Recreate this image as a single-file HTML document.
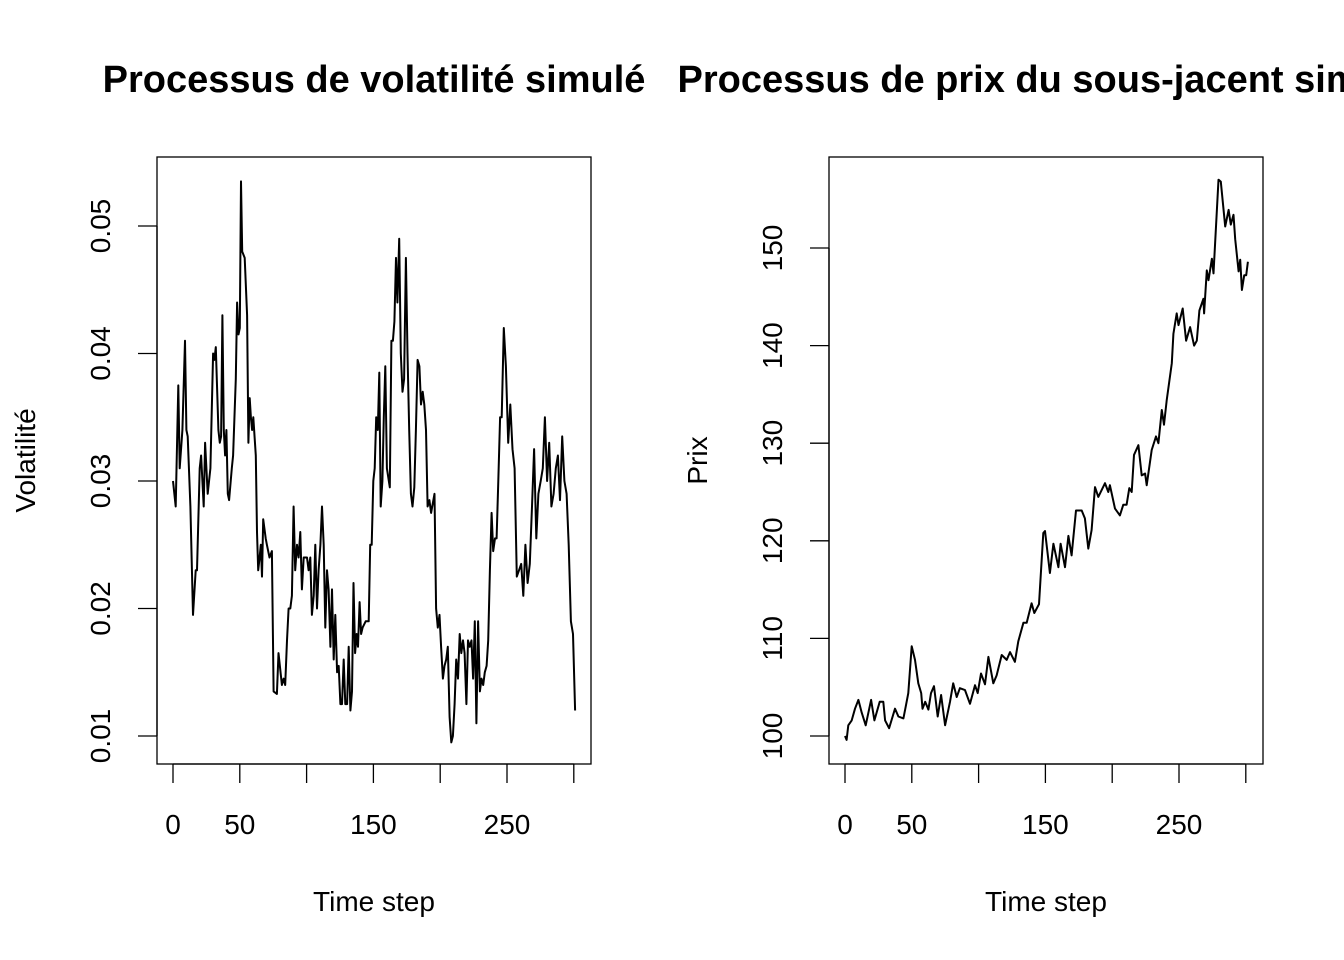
<!DOCTYPE html>
<html><head><meta charset="utf-8"><style>
html,body{margin:0;padding:0;background:#fff;}
svg{display:block;font-family:"Liberation Sans",Arial,sans-serif;}
</style></head><body>
<svg id="chart" width="1344" height="960" viewBox="0 0 1344 960"></svg>
<script>
// Volatility panel data
const volTime = [0,2,4,5,7,9,10,11,13,15,17,18,20,21,23,24,26,28,30,31,32,34,35,36,37,38,39,40,41,42,44,45,47,48,49,50,
50.9,51.8,53.7,55.5,56.4,57.4,58.3,59.2,60.1,62,62.9,63.8,64.8,65.7,66.6,67.5,69.4,70.3,72.2,74,
75.3,77.8,79,81.5,82.8,84,85.3,86.5,87.8,89,90.3,91.5,92.8,94,95.3,96.5,97.8,100.3,101.5,102.8,104,105.3,106.5,107.8,109,110.3,111.5,112.8,114,115.3,116.5,117.8,119,120.3,121.5,122.8,124,125.3,126.5,127.8,129,130.3,131.5,132.8,134,
135.1,136.3,137.4,138.5,139.7,140.8,141.9,144.2,146.5,147.6,148.7,149.9,151,152.1,153.3,154.4,155.5,156.7,157.8,158.9,160.1,162.3,163.5,164.6,165.7,166.9,168,
169.3,170.5,171.8,173,174.3,175.5,176.8,178.1,179.3,180.6,181.8,183.1,184.4,185.6,186.9,188.1,189.4,190.6,191.9,193.2,195.7,196.9,198.2,199.5,200.7,202,203.2,204.5,205.7,207,208.3,209.5,210.8,212,213.3,214.6,215.8,217.1,218.3,219.6,220.8,222.1,223.4,224.6,225.9,227.1,228.4,229.7,230.9,232.2,233.4,234.7,235.9,237.2,238.5,239.7,241,242.2,243.5,244.8,246,
247.6,249.2,250.9,252.5,254.1,255.7,257.3,259,260.6,262.2,263.8,265.4,267.1,268.7,270.3,271.9,273.5,275.2,276.8,278.4,280,281.6,283.2,284.9,286.5,288.1,289.7,291.3,293,294.6,296.2,297.8,299.4,301];
const volValue = [0.030,0.028,0.0375,0.031,0.034,0.041,0.034,0.0335,0.028,0.0195,0.023,0.023,0.031,0.032,0.028,0.033,0.029,0.031,0.040,0.0395,0.0405,0.034,0.033,0.0335,0.043,0.034,0.032,0.034,0.029,0.0285,0.031,0.032,0.038,0.044,0.0415,0.042,
0.0535,0.048,0.0475,0.043,0.033,0.0365,0.035,0.034,0.035,0.032,0.026,0.023,0.024,0.025,0.0225,0.027,0.0255,0.025,0.024,0.0245,
0.0135,0.0133,0.0165,0.014,0.0145,0.014,0.0175,0.020,0.020,0.021,0.028,0.023,0.025,0.024,0.026,0.0215,0.024,0.024,0.023,0.024,0.0195,0.021,0.025,0.020,0.023,0.025,0.028,0.025,0.0185,0.023,0.0215,0.017,0.0215,0.016,0.0195,0.015,0.0155,0.0125,0.0125,0.016,0.0125,0.0125,0.017,0.012,0.0135,0.022,
0.0165,0.018,0.017,0.0205,0.018,0.0185,0.019,0.019,0.025,0.025,0.030,0.031,0.035,0.034,0.0385,0.028,0.030,0.035,0.039,0.031,0.0295,0.041,0.041,0.0425,0.0475,0.044,0.049,
0.040,0.037,0.038,0.0475,0.040,0.034,0.029,0.028,0.0295,0.034,0.0395,0.039,0.036,0.037,0.036,0.034,0.028,0.0285,0.0275,0.029,0.020,0.0185,0.0195,0.017,0.0145,0.0155,0.016,0.017,0.0115,0.0095,0.010,0.0125,0.016,0.0145,0.018,0.0165,0.0175,0.0165,0.0125,0.0175,0.017,0.0175,0.0145,0.019,0.011,0.019,0.0135,0.0145,0.014,0.015,0.0155,0.0175,0.023,0.0275,0.0245,0.0255,0.0255,0.030,0.035,0.035,0.042,
0.039,0.033,0.036,0.0325,0.031,0.0225,0.023,0.0235,0.021,0.025,0.022,0.0235,0.028,0.0325,0.0255,0.029,0.030,0.031,0.035,0.030,0.033,0.028,0.029,0.031,0.032,0.0285,0.0335,0.030,0.029,0.025,0.019,0.018,0.012,0.0175];
const volYTicks = [0.01,0.02,0.03,0.04,0.05];
const volYLabels = ["0.01","0.02","0.03","0.04","0.05"];

// Price panel data
const priceTime = [0,1.2,2.5,5,7.5,10,12.5,15.5,19.5,22,26,28.7,30,33,37.4,40,43.7,45.4,47.4,49.9,52.4,54.9,57,58,60,62.4,64.4,66.6,69.4,71.9,74.9,78.6,81,83.6,86,89.8,93.6,97.3,99.3,101.8,104.8,107.3,111,113.5,117.3,121,123.5,127.2,129.7,133.5,136,139.7,141.7,145.2,
148.4,149.7,153.4,156,159.7,161.4,164.7,167.2,169.6,172.9,177.2,179.6,182.1,184.6,187.1,189.6,194.6,197.1,198.3,202.1,205.8,208.3,210.8,212.8,214.6,216.3,219.6,222.1,224.6,225.8,229.6,232.8,234.6,237.1,238.8,240.8,244.6,245.8,248.3,249.6,252.8,255.3,258.3,261.3,263.3,265.3,268.3,268.8,270.8,272.1,274.6,275.8,279.6,281.3,284.6,287.1,288.8,290.8,292.1,294.6,295.8,297.1,298.8,300.3,301.6];
const priceValue = [100.0,99.6,101.1,101.6,102.8,103.7,102.4,101.1,103.7,101.6,103.5,103.5,101.6,100.8,102.8,102,101.8,103,104.4,109.2,107.8,105.4,104.4,102.8,103.5,102.7,104.4,105.1,102,104.2,101.1,103.5,105.4,104,104.9,104.7,103.3,105.2,104.4,106.4,105.3,108.1,105.4,106.2,108.3,107.8,108.6,107.6,109.7,111.6,111.6,113.6,112.6,113.5,
120.8,121,116.7,119.7,117.3,119.7,117.3,120.5,118.5,123.1,123.1,122.3,119.2,121.1,125.5,124.5,125.9,125,125.7,123.3,122.6,123.7,123.7,125.4,125,128.8,129.8,126.7,126.9,125.7,129.3,130.7,130,133.4,131.9,134.4,138.2,141.2,143.3,142.1,143.8,140.5,141.9,140,140.5,143.6,144.8,143.3,147.7,146.7,148.9,147.4,157,156.8,152.2,153.9,152.4,153.4,150.9,147.6,148.8,145.7,147.2,147.2,148.6];
const priceYTicks = [100,110,120,130,140,150];
const priceYLabels = ["100","110","120","130","140","150"];

const xTicks = [0,50,100,150,200,250,300];
const xLabels = ["0","50","","150","","250",""];

const NS = "http://www.w3.org/2000/svg";
const svg = document.getElementById('chart');
function mk(tag, attrs, parent){
  const e = document.createElementNS(NS, tag);
  for (const k in attrs) e.setAttribute(k, attrs[k]);
  (parent||svg).appendChild(e);
  return e;
}

function panel(cfg){
  const g = mk('g', {});
  
  
  const L = cfg.box[0], T = cfg.box[1], R = cfg.box[2], B = cfg.box[3];
  const xS = t => cfg.x0 + t * 1.336;
  const yS = v => cfg.yRef - (v - cfg.vRef) * cfg.yPer;

  const title = mk('text', {x:(L+R)/2, y:92, 'text-anchor':'middle', 'font-size':38, 'font-weight':'bold', fill:'#000'}, g);
  title.textContent = cfg.title;
  
  

  const box = mk('rect', {x:L, y:T, width:R-L, height:B-T, fill:'none', stroke:'#000', 'stroke-width':1.3}, g);
  
  

  const xa = mk('g', {}, g);
  
  
  mk('line', {x1:xS(xTicks[0]), x2:xS(xTicks[xTicks.length-1]), y1:B, y2:B, stroke:'#000','stroke-width':1.3}, xa);
  xTicks.forEach((t,i) => {
    const tk = mk('line', {x1:xS(t), x2:xS(t), y1:B, y2:B+19, stroke:'#000','stroke-width':1.3}, xa);
    
    
    if (xLabels[i]) {
      const tl = mk('text', {x:xS(t), y:834, 'text-anchor':'middle','font-size':28, fill:'#000'}, xa);
      tl.textContent = xLabels[i];
      
      
    }
  });
  const xt = mk('text', {x:(L+R)/2, y:911, 'text-anchor':'middle','font-size':28, fill:'#000'}, g);
  xt.textContent = 'Time step';
  
  

  const ya = mk('g', {}, g);
  
  
  mk('line', {x1:L, x2:L, y1:yS(cfg.yTicks[0]), y2:yS(cfg.yTicks[cfg.yTicks.length-1]), stroke:'#000','stroke-width':1.3}, ya);
  cfg.yTicks.forEach((v,i) => {
    const y = yS(v);
    const tk = mk('line', {x1:L-19, x2:L, y1:y, y2:y, stroke:'#000','stroke-width':1.3}, ya);
    
    
    const lx = L - 57;
    const tl = mk('text', {x:lx, y:y, 'text-anchor':'middle','font-size':28, fill:'#000', transform:`rotate(-90 ${lx} ${y})`, dy:'0.35em'}, ya);
    tl.textContent = cfg.yLabels[i];
    
    
  });
  const yx = L - 132, yy = (T+B)/2;
  const yt = mk('text', {x:yx, y:yy, 'text-anchor':'middle','font-size':28, fill:'#000', transform:`rotate(-90 ${yx} ${yy})`, dy:'0.35em'}, g);
  yt.textContent = cfg.yTitle;
  
  

  const pts = cfg.t.map((t,i) => xS(t).toFixed(1) + ',' + yS(cfg.v[i]).toFixed(1)).join(' ');
  const pl = mk('polyline', {points:pts, fill:'none', stroke:'#000', 'stroke-width':2, 'stroke-linejoin':'round'}, g);
  
  
}

panel({name:'volatility-panel', box:[157,157,591,764], x0:173, yRef:736, vRef:0.01, yPer:12750,
  title:'Processus de volatilité simulé', yTitle:'Volatilité', yTicks:volYTicks, yLabels:volYLabels, t:volTime, v:volValue});
panel({name:'price-panel', box:[829,157,1263,764], x0:845, yRef:736, vRef:100, yPer:9.76,
  title:'Processus de prix du sous-jacent simulé', yTitle:'Prix', yTicks:priceYTicks, yLabels:priceYLabels, t:priceTime, v:priceValue});
</script>
</body></html>
